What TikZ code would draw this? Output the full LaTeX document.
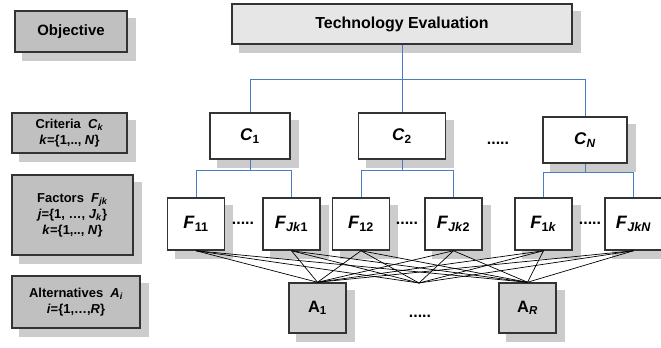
\documentclass[tikz,border=0pt]{standalone}
\usepackage{fontspec}
\setmainfont{Liberation Sans}
\usetikzlibrary{backgrounds}

\definecolor{levelgray}{HTML}{C0C0C0}
\definecolor{topgray}{HTML}{E6E6E6}
\definecolor{altgray}{HTML}{D0D0D0}
\definecolor{shadowgray}{HTML}{CCCCCC}
\definecolor{linkblue}{HTML}{4A7CC6}

\tikzset{
  box/.style={draw=black!80, line width=1.5bp, inner sep=0pt, align=center},
  levelbox/.style={box, fill=levelgray, font=\bfseries\fontsize{13}{16}\selectfont},
  critbox/.style={box, fill=white, minimum height=46bp, font=\bfseries\fontsize{17}{20}\selectfont},
  factbox/.style={box, fill=white, minimum width=57bp, minimum height=52bp, font=\bfseries\fontsize{18}{21}\selectfont},
  altbox/.style={box, fill=altgray, minimum width=57bp, minimum height=50bp, font=\bfseries\fontsize{16.5}{19}\selectfont},
  dots/.style={inner sep=0pt, font=\bfseries\fontsize{16}{19}\selectfont},
  link/.style={linkblue, line width=1bp},
  wire/.style={black, line width=0.7bp}
}

\begin{document}
\begin{tikzpicture}[x=1bp, y=-1bp]

    \useasboundingbox (0,0) rectangle (661,347);

    % levels on the left
    \node [levelbox, minimum width=112bp, minimum height=41bp, font=\bfseries\fontsize{15}{18}\selectfont] (objective) at (71,31.5) {Objective};
    \node [levelbox, minimum width=115bp, minimum height=40bp] (criteria) at (69.5,133)
        {Criteria\ \ \textit{C}\textsubscript{\textit{k}}\\\textit{k}=\{1,.., \textit{N}\}};
    \node [levelbox, minimum width=121bp, minimum height=80bp] (factors) at (72.5,215)
        {Factors\ \ \textit{F}\textsubscript{\textit{jk}}\\\textit{j}=\{1, …, \textit{J}\textsubscript{\textit{k}}\}\\\textit{k}=\{1,.., \textit{N}\}};
    \node [levelbox, minimum width=128bp, minimum height=52bp] (alternatives) at (76,302)
        {Alternatives\ \ \textit{A}\textsubscript{\textit{i}}\\\textit{i}=\{1,…,\textit{R}\}};

    % hierarchy
    \node [box, fill=topgray, minimum width=340bp, minimum height=40bp, font=\bfseries\fontsize{16}{19}\selectfont] (tech) at (402,24) {Technology Evaluation};

    \node [critbox, minimum width=80bp] (c1) at (250,136) {\textit{C}\textsubscript{1}};
    \node [critbox, minimum width=87bp] (c2) at (402,136) {\textit{C}\textsubscript{2}};
    \node [critbox, minimum width=84bp] (cn) at (585,140) {\textit{C}\textsubscript{\textit{N}}};
    \node [dots] (cdots) at (498,143) {.....};

    \node [factbox] (f11) at (196,224) {\textit{F}\textsubscript{11}};
    \node [factbox] (fjk1) at (291.5,224) {\textit{F}\textsubscript{\textit{Jk}1}};
    \node [factbox] (f12) at (361,224) {\textit{F}\textsubscript{12}};
    \node [factbox] (fjk2) at (453.5,224) {\textit{F}\textsubscript{\textit{Jk}2}};
    \node [factbox] (f1k) at (543.5,224) {\textit{F}\textsubscript{1\textit{k}}};
    \node [factbox] (fjkn) at (633.5,224) {\textit{F}\textsubscript{\textit{JkN}}};
    \node [dots] (fdots1) at (243,223) {.....};
    \node [dots] (fdots2) at (407,223) {.....};
    \node [dots] (fdots3) at (590,223) {.....};

    \node [altbox] (a1) at (317.5,308) {A\textsubscript{1}};
    \node [altbox] (ar) at (527.5,308) {A\textsubscript{\textit{R}}};
    \node [dots] (adots) at (420,316) {.....};
    \coordinate (amid) at (419,283);

    % shadows
    \begin{scope}[on background layer]
        \foreach \n in {objective,criteria,factors,alternatives,tech,c1,c2,cn,f11,fjk1,f12,fjk2,f1k,fjkn,a1,ar}
            \fill [shadowgray] ([xshift=8bp,yshift=-8bp]\n.north west) rectangle ([xshift=8bp,yshift=-8bp]\n.south east);
    \end{scope}

    % blue tree
    \draw [link] (tech.south) -- ++(0,35) -| (c1.north);
    \draw [link] (tech.south) -- (c2.north);
    \draw [link] (tech.south) -- ++(0,35) -| (cn.north);

    \draw [link] (c1.south) -- ++(0,11) -| (f11.north);
    \draw [link] (c1.south) -- ++(0,11) -| (fjk1.north);
    \draw [link] (c2.south) -- ++(0,11) -| (f12.north);
    \draw [link] (c2.south) -- ++(0,11) -| (fjk2.north);
    \draw [link] (cn.south) -- ++(0,9) -| (f1k.north);
    \draw [link] (cn.south) -- ++(0,9) -| (fjkn.north);

    % factors to alternatives
    \foreach \f in {f11,fjk1,f12,fjk2,f1k,fjkn} {
        \draw [wire] (\f.south) -- (a1.north);
        \draw [wire] (\f.south) -- (amid);
        \draw [wire] (\f.south) -- (ar.north);
    }

\end{tikzpicture}
\end{document}
